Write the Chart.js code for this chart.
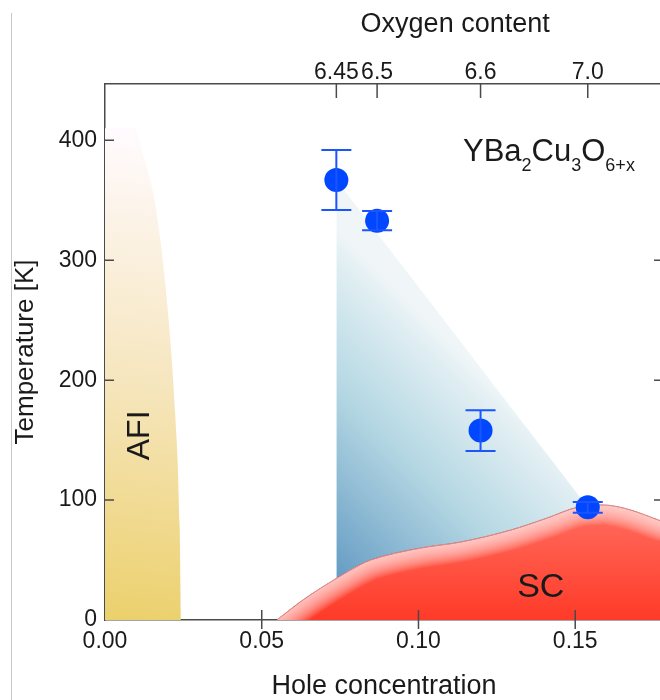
<!DOCTYPE html>
<html>
<head>
<meta charset="utf-8">
<script src="https://cdn.jsdelivr.net/npm/chart.js@4.4.0/dist/chart.umd.min.js"></script>
<style>
  html, body { margin: 0; padding: 0; background: #fff; overflow: hidden; }
  #frame { position: absolute; left: 11px; top: 13px; bottom: 0; border-left: 1px solid #c8c8c8; }
  #phase { position: absolute; left: 0; top: 0; }
</style>
</head>
<body>
<div id="frame"></div>
<canvas id="phase" width="663" height="700"></canvas>
<script>
const FONT = '"Liberation Sans", Arial, Helvetica, sans-serif';

// axes
const holeTicks = [0, 0.05, 0.10, 0.15];
const tempTicks = [0, 100, 200, 300, 400];
const oxygenLabels = ['6.45', '6.5', '6.6', '7.0'];
const oxygenHole = [0.0738, 0.0868, 0.1198, 0.1540];

// measured points with error bars
const pointHole = [0.0738, 0.0868, 0.1198, 0.1540];
const pointTemp = [367, 333, 158, 94];
const pointErr = [25, 8, 17, 4.5];

// AFI region boundary
const afiHole = [0, 0.009, 0.0125, 0.0165, 0.0201, 0.0224, 0.0238, 0.0242];
const afiTemp = [410, 410, 385, 339, 256, 172, 80, 0];

// SC dome boundary
const scHole = [0.0548, 0.0633, 0.074, 0.0813, 0.0847, 0.1006, 0.1134, 0.1294, 0.141, 0.1506, 0.1585, 0.166, 0.178];
const scTemp = [0, 17, 35, 46, 50, 60, 65, 75, 85, 94, 96, 93, 82];

// pseudogap region upper edge
const pgHole = [0.0738, 0.1540];
const pgTemp = [367, 94];

const toXY = (xs, ys) => xs.map((v, i) => ({ x: v, y: ys[i] }));

function grad(ctx, x0, y0, x1, y1, stops) {
  const { chart } = ctx;
  if (!chart.chartArea) return 'transparent';
  const sx = chart.scales.x, sy = chart.scales.y;
  const g = chart.ctx.createLinearGradient(sx.getPixelForValue(x0), sy.getPixelForValue(y0),
                                           sx.getPixelForValue(x1), sy.getPixelForValue(y1));
  stops.forEach(s => g.addColorStop(s[0], s[1]));
  return g;
}

// soft light rim just inside the SC dome
const scGlow = {
  id: 'scGlow',
  afterDatasetDraw(chart, args) {
    if (args.index !== 1) return;
    const line = args.meta.dataset;
    const pts = line.points;
    const { ctx, chartArea: a } = chart;
    ctx.save();
    ctx.beginPath();
    ctx.rect(a.left, a.top, a.right - a.left, a.bottom - a.top);
    ctx.clip();
    ctx.beginPath();
    line.path(ctx);
    ctx.lineTo(pts[pts.length - 1].x, a.bottom);
    ctx.lineTo(pts[0].x, a.bottom);
    ctx.closePath();
    ctx.clip();
    ctx.lineJoin = 'round';
    ctx.lineCap = 'round';
    ctx.strokeStyle = 'rgba(255, 238, 235, 0.065)';
    for (let w = 40; w >= 2; w -= 2) {
      ctx.lineWidth = w;
      ctx.beginPath();
      line.path(ctx);
      ctx.stroke();
    }
    ctx.lineWidth = 1;
    ctx.strokeStyle = 'rgba(205, 90, 90, 0.9)';
    ctx.beginPath();
    line.path(ctx);
    ctx.stroke();
    ctx.restore();
  }
};

const tickMarks = {
  id: 'tickMarks',
  afterDraw(chart) {
    const { ctx, chartArea: a, scales: { x, x2, y } } = chart;
    ctx.save();
    ctx.strokeStyle = '#4a4a4a';
    ctx.lineWidth = 1.5;
    ctx.beginPath();
    tempTicks.forEach(v => {
      if (v === 0) return;
      const py = y.getPixelForValue(v);
      ctx.moveTo(a.left, py); ctx.lineTo(a.left + 9, py);
      if (v < 400) { ctx.moveTo(a.right, py); ctx.lineTo(a.right - 9, py); }
    });
    holeTicks.forEach(v => {
      if (v === 0) return;
      const px = x.getPixelForValue(v);
      ctx.moveTo(px, a.bottom - 10); ctx.lineTo(px, a.bottom + 9);
    });
    oxygenHole.forEach(v => {
      const px = x2.getPixelForValue(v);
      ctx.moveTo(px, a.top); ctx.lineTo(px, a.top + 14);
    });
    ctx.stroke();
    ctx.restore();
  }
};

const errorBars = {
  id: 'errorBars',
  afterDatasetsDraw(chart) {
    const { ctx, scales: { x, y } } = chart;
    ctx.save();
    ctx.strokeStyle = '#1a55ff';
    ctx.lineWidth = 2;
    pointHole.forEach((h, i) => {
      const px = x.getPixelForValue(h);
      const top = y.getPixelForValue(pointTemp[i] + pointErr[i]);
      const bot = y.getPixelForValue(pointTemp[i] - pointErr[i]);
      ctx.beginPath();
      ctx.moveTo(px, top); ctx.lineTo(px, bot);
      ctx.moveTo(px - 15, top); ctx.lineTo(px + 15, top);
      ctx.moveTo(px - 15, bot); ctx.lineTo(px + 15, bot);
      ctx.stroke();
    });
    ctx.restore();
  }
};

const labels = {
  id: 'labels',
  afterDatasetsDraw(chart) {
    const { ctx, scales: { x, y } } = chart;
    ctx.save();
    ctx.fillStyle = '#1a1a1a';

    // AFI (rotated)
    ctx.save();
    ctx.translate(x.getPixelForValue(0.0112), y.getPixelForValue(154));
    ctx.rotate(-Math.PI / 2);
    ctx.font = '32px ' + FONT;
    ctx.textAlign = 'center';
    ctx.textBaseline = 'middle';
    ctx.fillText('AFI', 0, 0);
    ctx.restore();

    // SC
    ctx.font = '34px ' + FONT;
    ctx.textAlign = 'center';
    ctx.textBaseline = 'middle';
    ctx.fillText('SC', x.getPixelForValue(0.139), y.getPixelForValue(27));

    // Oxygen content title over top axis
    ctx.font = '27px ' + FONT;
    ctx.fillText('Oxygen content', x.getPixelForValue(0.1117), 25);

    // YBa2Cu3O6+x
    const parts = [['YBa', 0], ['2', 1], ['Cu', 0], ['3', 1], ['O', 0], ['6+x', 1]];
    let px = x.getPixelForValue(0.1142);
    const base = y.getPixelForValue(383);
    ctx.textAlign = 'left';
    ctx.textBaseline = 'alphabetic';
    parts.forEach(([t, sub]) => {
      ctx.font = (sub ? '18px ' : '31px ') + FONT;
      ctx.fillText(t, px, sub ? base + 10 : base);
      px += ctx.measureText(t).width;
    });
    ctx.restore();
  }
};

new Chart(document.getElementById('phase'), {
  type: 'line',
  data: {
    datasets: [
      {
        label: 'Pseudogap T*',
        data: toXY(pointHole, pointTemp),
        showLine: false,
        pointRadius: 12,
        pointHoverRadius: 12,
        pointBackgroundColor: '#0047ff',
        pointBorderWidth: 0
      },
      {
        label: 'SC',
        data: toXY(scHole, scTemp),
        cubicInterpolationMode: 'monotone',
        pointRadius: 0,
        borderColor: 'rgba(205, 90, 90, 0.9)',
        borderWidth: 1,
        fill: 'origin',
        backgroundColor: ctx => grad(ctx, 0.12, 100, 0.12, 0, [
          [0, 'rgb(255, 112, 98)'], [1, 'rgb(255, 58, 40)']
        ])
      },
      {
        label: 'Pseudogap',
        data: toXY(pgHole, pgTemp),
        pointRadius: 0,
        borderWidth: 0,
        borderColor: 'transparent',
        fill: 1,
        backgroundColor: ctx => grad(ctx, 0.0737, 33, 0.130, 181, [
          [0, 'rgb(100, 155, 195)'], [0.55, 'rgb(180, 215, 227)'],
          [0.94, 'rgb(228, 240, 244)'], [1, 'rgb(240, 246, 248)']
        ])
      },
      {
        label: 'AFI',
        data: toXY(afiHole, afiTemp),
        cubicInterpolationMode: 'monotone',
        pointRadius: 0,
        borderWidth: 0,
        borderColor: 'transparent',
        fill: 'origin',
        backgroundColor: ctx => grad(ctx, 0, 0, 0.02, 400, [
          [0, 'rgb(236, 208, 108)'], [0.5, 'rgb(246, 230, 190)'], [1, 'rgb(255, 250, 253)']
        ])
      }
    ]
  },
  options: {
    responsive: false,
    animation: false,
    layout: { padding: 0, autoPadding: false },
    plugins: { legend: { display: false }, tooltip: { enabled: false } },
    scales: {
      x: {
        type: 'linear', position: 'bottom', min: 0, max: 0.178,
        afterBuildTicks: s => { s.ticks = holeTicks.map(v => ({ value: v })); },
        afterFit: s => { s.height = 80; },
        grid: { display: false, drawTicks: false },
        border: { display: true, color: '#4a4a4a', width: 1.5 },
        ticks: {
          color: '#1a1a1a', font: { family: FONT, size: 23, lineHeight: 1 },
          padding: 10, maxRotation: 0, autoSkip: false,
          callback: v => v.toFixed(2)
        },
        title: {
          display: true, text: 'Hole concentration', color: '#1a1a1a',
          font: { family: FONT, size: 27, lineHeight: 1 }, padding: 0
        }
      },
      x2: {
        type: 'linear', position: 'top', min: 0, max: 0.178,
        afterBuildTicks: s => { s.ticks = oxygenHole.map(v => ({ value: v })); },
        afterFit: s => { s.height = 84; },
        grid: { display: false, drawTicks: false },
        border: { display: true, color: '#4a4a4a', width: 1.5 },
        ticks: {
          color: '#1a1a1a', font: { family: FONT, size: 23, lineHeight: 1 },
          padding: 0, maxRotation: 0, autoSkip: false,
          callback: (v, i) => oxygenLabels[i]
        }
      },
      y: {
        type: 'linear', position: 'left', min: 0, max: 447,
        afterBuildTicks: s => { s.ticks = tempTicks.map(v => ({ value: v })); },
        afterFit: s => { s.width = 105; },
        grid: { display: false, drawTicks: false },
        border: { display: true, color: '#4a4a4a', width: 1.5 },
        ticks: {
          color: '#1a1a1a', font: { family: FONT, size: 23, lineHeight: 1 },
          padding: 8
        },
        title: {
          display: true, text: 'Temperature [K]', color: '#1a1a1a',
          font: { family: FONT, size: 26, lineHeight: 1 }, padding: { top: 13, bottom: 0 }
        }
      }
    }
  },
  plugins: [scGlow, tickMarks, errorBars, labels]
});
</script>
</body>
</html>
